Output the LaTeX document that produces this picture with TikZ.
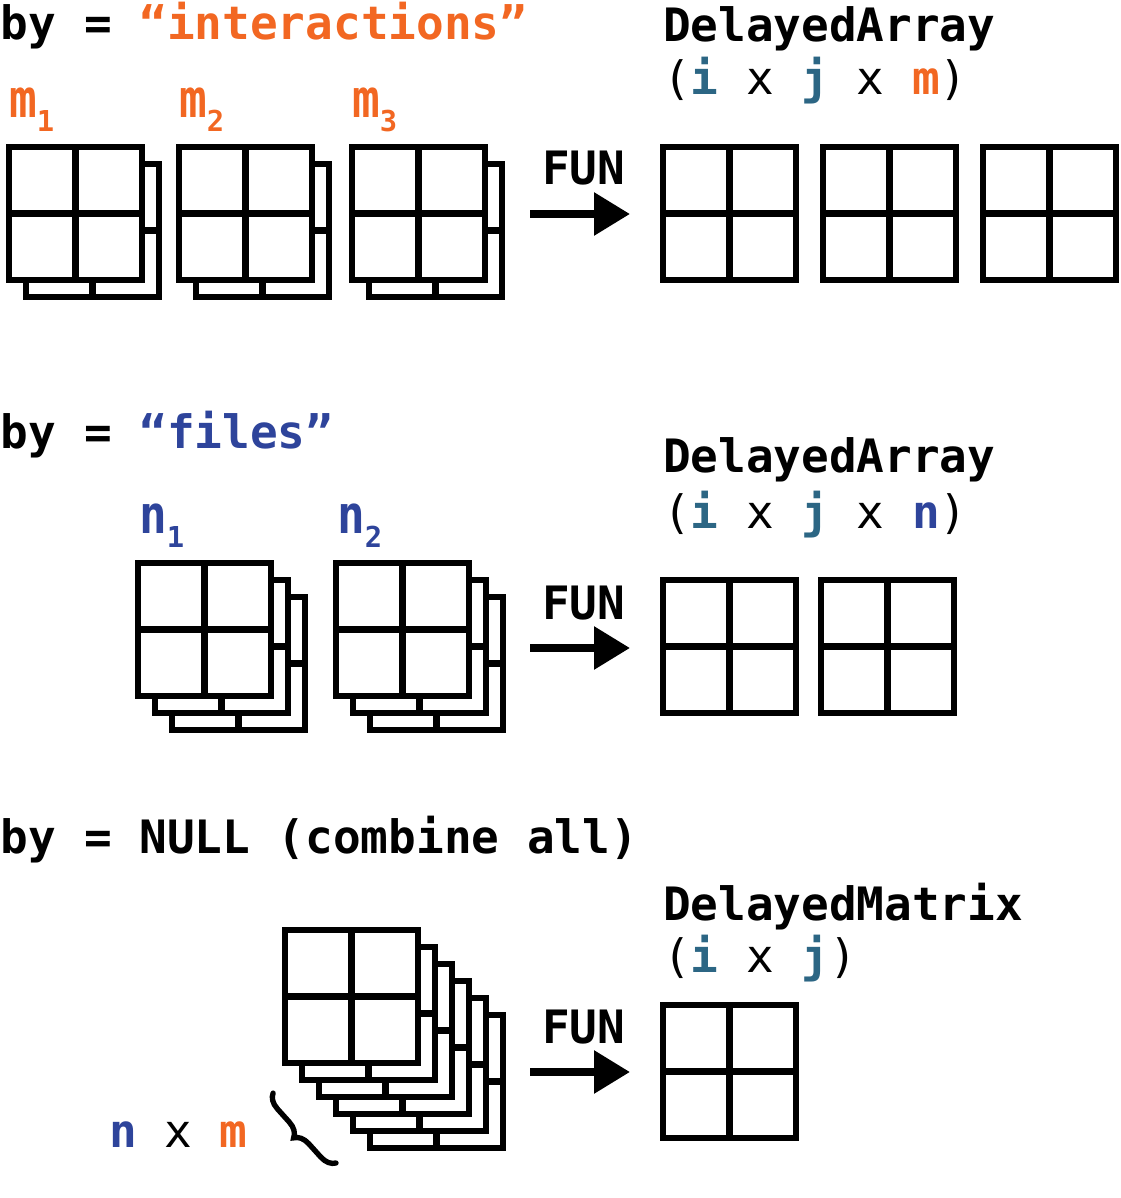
\documentclass[tikz,border=0pt]{standalone}
\usepackage{fontspec}
\setmonofont{DejaVu Sans Mono}
\usetikzlibrary{arrows.meta,decorations.pathreplacing}
\definecolor{corange}{HTML}{F26722}
\definecolor{cblue}{HTML}{2E449B}
\definecolor{cteal}{HTML}{2C6684}
\newcommand\mainf{\fontsize{34.5pt}{40pt}\selectfont\ttfamily}
\newcommand\subf{\fontsize{21.6pt}{24pt}\selectfont\ttfamily\bfseries}
\newcommand\lab[3]{\textcolor{#1}{\scalebox{1}[1.15]{\mainf\bfseries #2}\raisebox{-10.5pt}{\subf #3}}}
\tikzset{
  cell/.style={draw, fill=white, line width=4.8pt, minimum size=99.75pt,
    inner sep=0pt, outer sep=0pt, anchor=north west,
    path picture={\draw[line width=4.8pt]
      (path picture bounding box.north) -- (path picture bounding box.south)
      (path picture bounding box.west) -- (path picture bounding box.east);}},
  txt/.style={anchor=base west, inner sep=0pt, outer sep=0pt, font=\mainf},
  funarrow/.style={line width=6pt, -{Triangle[length=27pt,width=31pt]}},
  funlab/.style={anchor=base west, inner sep=0pt, font=\mainf\bfseries},
  bracestyle/.style={line width=4pt, line cap=round, decorate, decoration={brace, amplitude=11pt}},
}
\begin{document}
\begin{tikzpicture}[x=0.75pt,y=-0.75pt]
\useasboundingbox (0,0) rectangle (1120,1198);
% ---------- section 1 ----------
\node[txt] (t1) at (1,40) {\bfseries by = \textcolor{corange}{“interactions”}};
\node[txt] (d1) at (663,42) {\bfseries DelayedArray};
\node[txt] (q1) at (663,95) {(\textcolor{cteal}{\bfseries i} x \textcolor{cteal}{\bfseries j} x \textcolor{corange}{\bfseries m})};
\node[anchor=base west, inner sep=0pt] (m1) at (9,118) {\lab{corange}{m}{1}};
\node[anchor=base west, inner sep=0pt] (m2) at (179,118) {\lab{corange}{m}{2}};
\node[anchor=base west, inner sep=0pt] (m3) at (352,118) {\lab{corange}{m}{3}};
\node[cell] (g1b) at (26,164) {};
\node[cell] (g1) at (9,147) {};
\node[cell] (g2b) at (196,164) {};
\node[cell] (g2) at (179,147) {};
\node[cell] (g3b) at (369,164) {};
\node[cell] (g3) at (352,147) {};
\node[cell] (o1) at (663,147) {};
\node[cell] (o2) at (823,147) {};
\node[cell] (o3) at (983,147) {};
\node[funlab] (f1) at (542,185) {FUN};
\coordinate (a1s) at (530,214);
\coordinate (a1e) at (630,214);
\draw[funarrow] (a1s) -- (a1e);
% ---------- section 2 ----------
\node[txt] (t2) at (1,448) {\bfseries by = \textcolor{cblue}{“files”}};
\node[txt] (d2) at (663,472) {\bfseries DelayedArray};
\node[txt] (q2) at (663,528) {(\textcolor{cteal}{\bfseries i} x \textcolor{cteal}{\bfseries j} x \textcolor{cblue}{\bfseries n})};
\node[anchor=base west, inner sep=0pt] (n1) at (139,533) {\lab{cblue}{n}{1}};
\node[anchor=base west, inner sep=0pt] (n2) at (337,533) {\lab{cblue}{n}{2}};
\node[cell] (h1c) at (172,597) {};
\node[cell] (h1b) at (155,580) {};
\node[cell] (h1) at (138,563) {};
\node[cell] (h2c) at (370,597) {};
\node[cell] (h2b) at (353,580) {};
\node[cell] (h2) at (336,563) {};
\node[cell] (r1) at (663,580) {};
\node[cell] (r2) at (821,580) {};
\node[funlab] (f2) at (542,619) {FUN};
\coordinate (a2s) at (530,648);
\coordinate (a2e) at (630,648);
\draw[funarrow] (a2s) -- (a2e);
% ---------- section 3 ----------
\node[txt] (t3) at (1,853) {\bfseries by = NULL (combine all)};
\node[txt] (d3) at (663,920) {\bfseries DelayedMatrix};
\node[txt] (q3) at (663,972) {(\textcolor{cteal}{\bfseries i} x \textcolor{cteal}{\bfseries j})};
\node[cell] (k5) at (370,1015) {};
\node[cell] (k4) at (353,998) {};
\node[cell] (k3) at (336,981) {};
\node[cell] (k2) at (319,964) {};
\node[cell] (k1) at (302,947) {};
\node[cell] (k0) at (285,930) {};
\node[cell] (s1) at (663,1005) {};
\node[funlab] (f3) at (542,1043) {FUN};
\coordinate (a3s) at (530,1072);
\coordinate (a3e) at (630,1072);
\draw[funarrow] (a3s) -- (a3e);
\node[txt] (nm) at (109,1147) {\textcolor{cblue}{\bfseries n} x \textcolor{corange}{\bfseries m}};
\coordinate (br1) at (336,1163);
\coordinate (br2) at (273,1093);
\draw[bracestyle] (br1) -- (br2);
\end{tikzpicture}
\end{document}
